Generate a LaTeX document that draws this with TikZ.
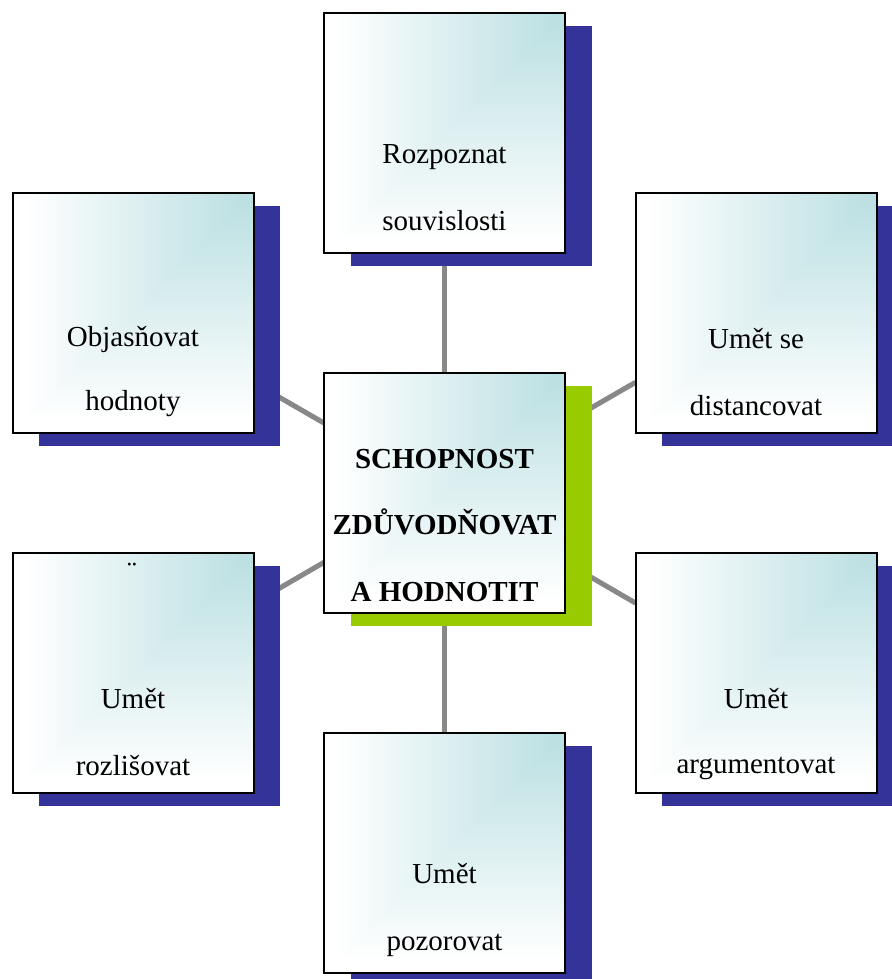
\documentclass[tikz,border=0pt]{standalone}
\usepackage{fontspec}
\setmainfont{Liberation Serif}
\usetikzlibrary{shadows}

\definecolor{shadowblue}{RGB}{51,51,153}
\definecolor{shadowgreen}{RGB}{153,204,0}
\definecolor{linkgray}{RGB}{136,136,136}

% pale cyan in the upper right corner fading to white towards the other sides
\pgfdeclarefunctionalshading{boxfill}{\pgfpoint{-50bp}{-50bp}}{\pgfpoint{50bp}{50bp}}{}{
  25 exch sub 50 div
  exch 25 exch sub 50 div
  2 copy lt {exch} if pop
  0.05 sub 0.9 div
  dup 0 lt {pop 0} if
  dup 1 gt {pop 1} if
  dup 0.26 mul 0.74 add
  exch dup 0.12 mul 0.88 add
  exch 0.11 mul 0.89 add
}

\pgfdeclarelayer{background}
\pgfsetlayers{background,main}

\tikzset{
  card/.style={draw=black, line width=1.5pt, shading=boxfill,
    minimum width=180.75pt, minimum height=180pt, inner sep=0pt, outer sep=0pt},
  bluecard/.style={card, drop shadow={shadow xshift=19.9pt, shadow yshift=-10.1pt,
    fill=shadowblue, opacity=1, draw=none}},
  greencard/.style={card, drop shadow={shadow xshift=19.9pt, shadow yshift=-10.1pt,
    fill=shadowgreen, opacity=1, draw=none}},
  txt/.style={anchor=base, inner sep=0pt, font=\fontsize{21.75pt}{26pt}\selectfont},
  btxt/.style={txt, font=\fontsize{21.75pt}{26pt}\selectfont\bfseries},
  link/.style={draw=linkgray, line width=3.8pt}
}

\begin{document}
\begin{tikzpicture}[x=0.75pt, y=-0.75pt]
\useasboundingbox (0,0) rectangle (892,979);

% boxes
\node[bluecard]  (top) at (444.5,133)   {};
\node[bluecard]  (ul)  at (133,313)     {};
\node[bluecard]  (ur)  at (756,313)     {};
\node[greencard] (ctr) at (444.5,492.5) {};
\node[bluecard]  (ll)  at (133,673)     {};
\node[bluecard]  (lr)  at (756,672.5)   {};
\node[bluecard]  (bot) at (444.5,852.5) {};

% spokes behind the boxes
\begin{pgfonlayer}{background}
  \draw[link] (ctr) -- (top);
  \draw[link] (ctr) -- (bot);
  \draw[link] (ctr) -- (ul);
  \draw[link] (ctr) -- (ur);
  \draw[link] (ctr) -- (ll);
  \draw[link] (ctr) -- (lr);
\end{pgfonlayer}

% labels
\node[txt] (top1) at (444.5,163) {Rozpoznat};
\node[txt] (top2) at (444.5,230) {souvislosti};

\node[txt] (ul1) at (133,346) {Objasňovat};
\node[txt] (ul2) at (133,410) {hodnoty};

\node[txt] (ur1) at (756,348) {Umět se};
\node[txt] (ur2) at (756,415) {distancovat};

\node[btxt] (ctr1) at (444.5,468) {SCHOPNOST};
\node[btxt] (ctr2) at (444.5,534) {ZDŮVODŇOVAT};
\node[btxt] (ctr3) at (444.5,601) {A HODNOTIT};

\node[txt] (ll0) at (132,581) {¨};
\node[txt] (ll1) at (133,708) {Umět};
\node[txt] (ll2) at (133,775) {rozlišovat};

\node[txt] (lr1) at (756,708) {Umět};
\node[txt] (lr2) at (756,773) {argumentovat};

\node[txt] (bot1) at (444.5,883) {Umět};
\node[txt] (bot2) at (444.5,950) {pozorovat};
\end{tikzpicture}
\end{document}
